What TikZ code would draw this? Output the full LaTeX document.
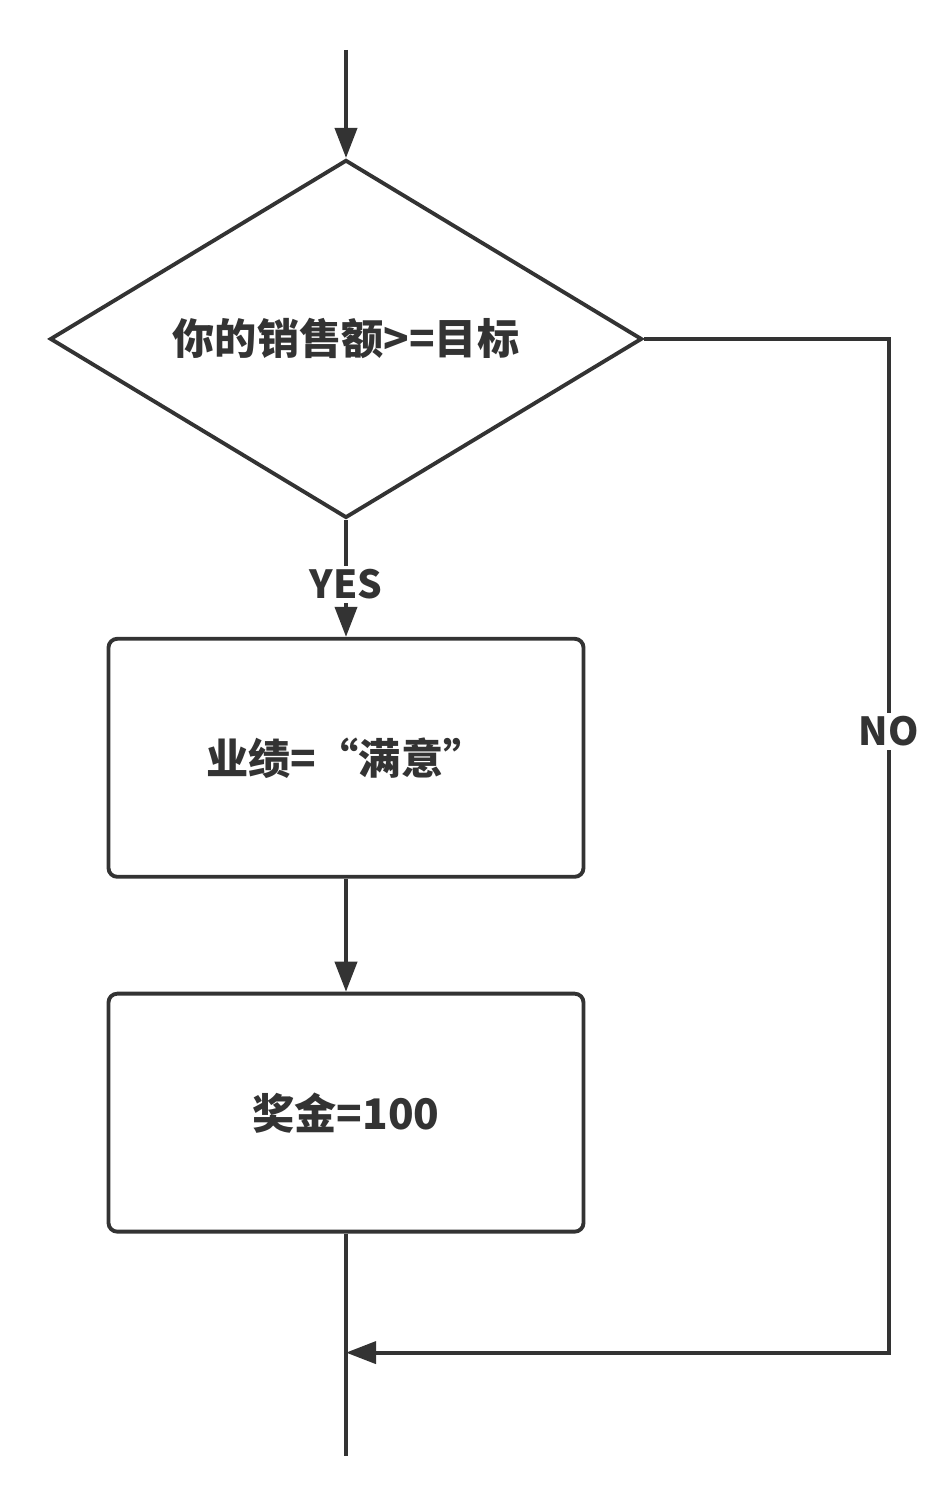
\documentclass[tikz,border=0pt]{standalone}
\usepackage{fontspec}
\setmainfont{Noto Sans CJK SC}
\usetikzlibrary{arrows.meta,positioning,shapes.geometric}
\definecolor{Ink}{HTML}{333333}
\tikzset{box/.style={rectangle,rounded corners=5pt,draw=Ink,line width=2.2pt,minimum width=9.5cm,minimum height=4.76cm,align=center,text=Ink,font=\fontsize{24}{28}\selectfont\bfseries},decision/.style={diamond,aspect=1.655,draw=Ink,line width=2.2pt,minimum width=11.84cm,minimum height=7.16cm,inner sep=0pt,align=center,text=Ink,font=\fontsize{24}{28}\selectfont\bfseries},flow/.style={-{Triangle[length=6mm,width=4.4mm]},line width=2.2pt,draw=Ink},tag/.style={fill=white,text=Ink,inner sep=2pt,font=\fontsize{22}{26}\selectfont\bfseries}}

\begin{document}
\begin{tikzpicture}
      \useasboundingbox (0,0) rectangle (18.98,-30.12);
      \coordinate (start) at (6.92,-1.0);
      \node[decision,below=2.16cm of start,anchor=north](check){你的销售额>=目标};
      \node[box,below=2.34cm of check](grade){业绩=“满意”};
      \node[box,below=2.26cm of grade](bonus){奖金=100};
      \coordinate[below=2.38cm of bonus.south](merge);
      \coordinate[below=4.44cm of bonus.south](stop);
      \coordinate[right=4.9cm of check.east](ne);
      \coordinate (se) at (ne |- merge);
      \draw[flow](start)--(check.north);
      \draw[flow](check.south)--node[tag,pos=0.55]{YES}(grade.north);
      \draw[flow](grade)--(bonus);
      \draw[line width=2.2pt,draw=Ink](bonus.south)--(stop);
      \draw[flow](check.east)--(ne)--node[tag,pos=0.387]{NO}(se)--(merge);
    \end{tikzpicture}
\end{document}
